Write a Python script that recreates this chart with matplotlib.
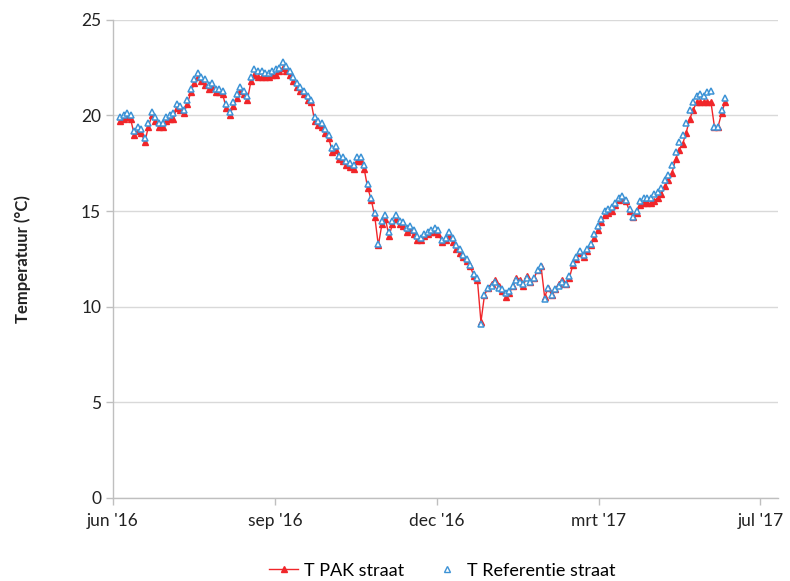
import numpy as np
import matplotlib
matplotlib.use("Agg")
import matplotlib.pyplot as plt
from matplotlib.lines import Line2D

# Measurement day (days since 1 June 2016), every second day
days = list(range(4, 348, 2))

# T Referentie straat (°C)
t_ref = [
    19.9, 20.0, 20.1, 20.0, 19.2, 19.4, 19.3, 18.8, 19.6, 20.2,
    19.9, 19.6, 19.6, 19.9, 20.0, 20.1, 20.6, 20.5, 20.3, 20.8,
    21.4, 21.9, 22.2, 22.0, 21.9, 21.6, 21.7, 21.4, 21.4, 21.3,
    20.6, 20.2, 20.7, 21.1, 21.5, 21.3, 21.0, 22.0, 22.4, 22.3,
    22.3, 22.2, 22.2, 22.3, 22.4, 22.5, 22.8, 22.6, 22.3, 22.0,
    21.7, 21.5, 21.3, 21.0, 20.8, 19.9, 19.7, 19.6, 19.3, 19.0,
    18.3, 18.4, 17.9, 17.8, 17.6, 17.5, 17.4, 17.8, 17.8, 17.4,
    16.4, 15.7, 14.9, 13.3, 14.5, 14.8, 13.9, 14.5, 14.8, 14.5,
    14.4, 14.1, 14.2, 14.0, 13.7, 13.6, 13.8, 13.9, 14.0, 14.1,
    14.0, 13.5, 13.6, 13.9, 13.6, 13.2, 13.0, 12.7, 12.5, 12.2,
    11.7, 11.5, 9.1, 10.6, 11.0, 11.1, 11.3, 11.0, 10.9, 10.7,
    10.8, 11.1, 11.4, 11.3, 11.2, 11.5, 11.3, 11.5, 11.9, 12.1,
    10.4, 11.0, 10.6, 10.9, 11.1, 11.3, 11.2, 11.6, 12.3, 12.6,
    12.9, 12.7, 13.0, 13.3, 13.8, 14.2, 14.6, 15.0, 15.1, 15.2,
    15.4, 15.7, 15.8, 15.6, 15.1, 14.7, 15.0, 15.5, 15.7, 15.7,
    15.7, 15.9, 16.0, 16.2, 16.6, 16.9, 17.4, 18.1, 18.6, 19.0,
    19.6, 20.3, 20.7, 21.0, 21.1, 21.0, 21.2, 21.3, 19.4, 19.4,
    20.3, 20.9,
]

# T PAK straat (°C)
t_pak = [
    19.7, 19.8, 19.9, 19.8, 19.0, 19.2, 19.1, 18.6, 19.4, 20.0,
    19.7, 19.4, 19.4, 19.7, 19.8, 19.8, 20.4, 20.3, 20.1, 20.6,
    21.2, 21.7, 22.0, 21.8, 21.6, 21.4, 21.5, 21.2, 21.2, 21.1,
    20.4, 20.0, 20.5, 20.9, 21.3, 21.1, 20.8, 21.8, 22.1, 22.0,
    22.0, 22.0, 22.0, 22.1, 22.1, 22.3, 22.5, 22.3, 22.1, 21.8,
    21.5, 21.3, 21.1, 20.8, 20.7, 19.7, 19.5, 19.4, 19.1, 18.8,
    18.1, 18.2, 17.7, 17.6, 17.4, 17.3, 17.2, 17.6, 17.6, 17.2,
    16.2, 15.6, 14.7, 13.2, 14.3, 14.6, 13.7, 14.3, 14.6, 14.3,
    14.2, 13.9, 14.0, 13.8, 13.5, 13.5, 13.7, 13.8, 13.9, 13.9,
    13.8, 13.4, 13.5, 13.7, 13.4, 13.0, 12.8, 12.6, 12.4, 12.1,
    11.6, 11.4, 9.2, 10.6, 11.0, 11.2, 11.4, 11.1, 10.8, 10.5,
    10.7, 11.1, 11.5, 11.4, 11.1, 11.6, 11.3, 11.5, 11.9, 12.1,
    10.5, 11.0, 10.6, 10.9, 11.2, 11.4, 11.2, 11.5, 12.2, 12.5,
    12.8, 12.6, 12.9, 13.2, 13.6, 14.0, 14.4, 14.8, 14.9, 15.0,
    15.3, 15.6, 15.7, 15.5, 15.0, 14.7, 14.9, 15.3, 15.4, 15.4,
    15.4, 15.5, 15.7, 15.9, 16.3, 16.6, 17.0, 17.7, 18.2, 18.5,
    19.1, 19.8, 20.3, 20.7, 20.7, 20.7, 20.7, 20.7, 19.4, 19.4,
    20.1, 20.7,
]

tick_days = [0, 91.5, 183, 274.5, 366]
tick_labels = ["jun '16", "sep '16", "dec '16", "mrt '17", "jul '17"]
y_ticks = [0, 5, 10, 15, 20, 25]

plt.rcParams['font.family'] = ['Lato', 'DejaVu Sans']

fig = plt.figure(figsize=(7.9, 5.81), dpi=100)
ax = fig.add_axes([0.143, 0.143, 0.842, 0.823])

red = '#F0262A'
blue = '#3D93D6'

ax.plot(days, t_pak, color=red, lw=1.0, marker='^', ms=4.5,
        mfc=red, mec=red, zorder=3)
ax.plot(days, t_ref, linestyle='none', marker='^', ms=5.0,
        mfc='white', mec=blue, mew=1.1, zorder=4)

ax.set_xlim(0, 376)
ax.set_ylim(0, 25)
ax.set_xticks(tick_days)
ax.set_xticklabels(tick_labels)
ax.set_yticks(y_ticks)

ax.grid(axis='y', color='#D9D9D9', lw=1.0)
ax.set_axisbelow(True)
for side in ['top', 'right']:
    ax.spines[side].set_visible(False)
for side in ['left', 'bottom']:
    ax.spines[side].set_color('#BFBFBF')
    ax.spines[side].set_linewidth(1.0)

ax.tick_params(axis='both', colors='#BFBFBF', length=5, width=1.0,
               labelcolor='#222222', labelsize=12.5)
ax.tick_params(axis='x', pad=6)

ax.set_ylabel('Temperatuur (°C)', fontsize=12, fontweight='bold',
              color='#222222', labelpad=36)

handles = [
    Line2D([], [], color=red, lw=1.0, marker='^', ms=4.5, mfc=red, mec=red),
    Line2D([], [], linestyle='none', marker='^', ms=4, mfc='white',
           mec=blue, mew=1.0),
]
fig.legend(handles, ['T PAK straat', 'T Referentie straat'],
           loc='center', bbox_to_anchor=(0.56, 0.018), ncol=2,
           frameon=False, fontsize=13, handlelength=1.6,
           handletextpad=0.3, columnspacing=1.6)

fig.savefig('out.png', dpi=100)
